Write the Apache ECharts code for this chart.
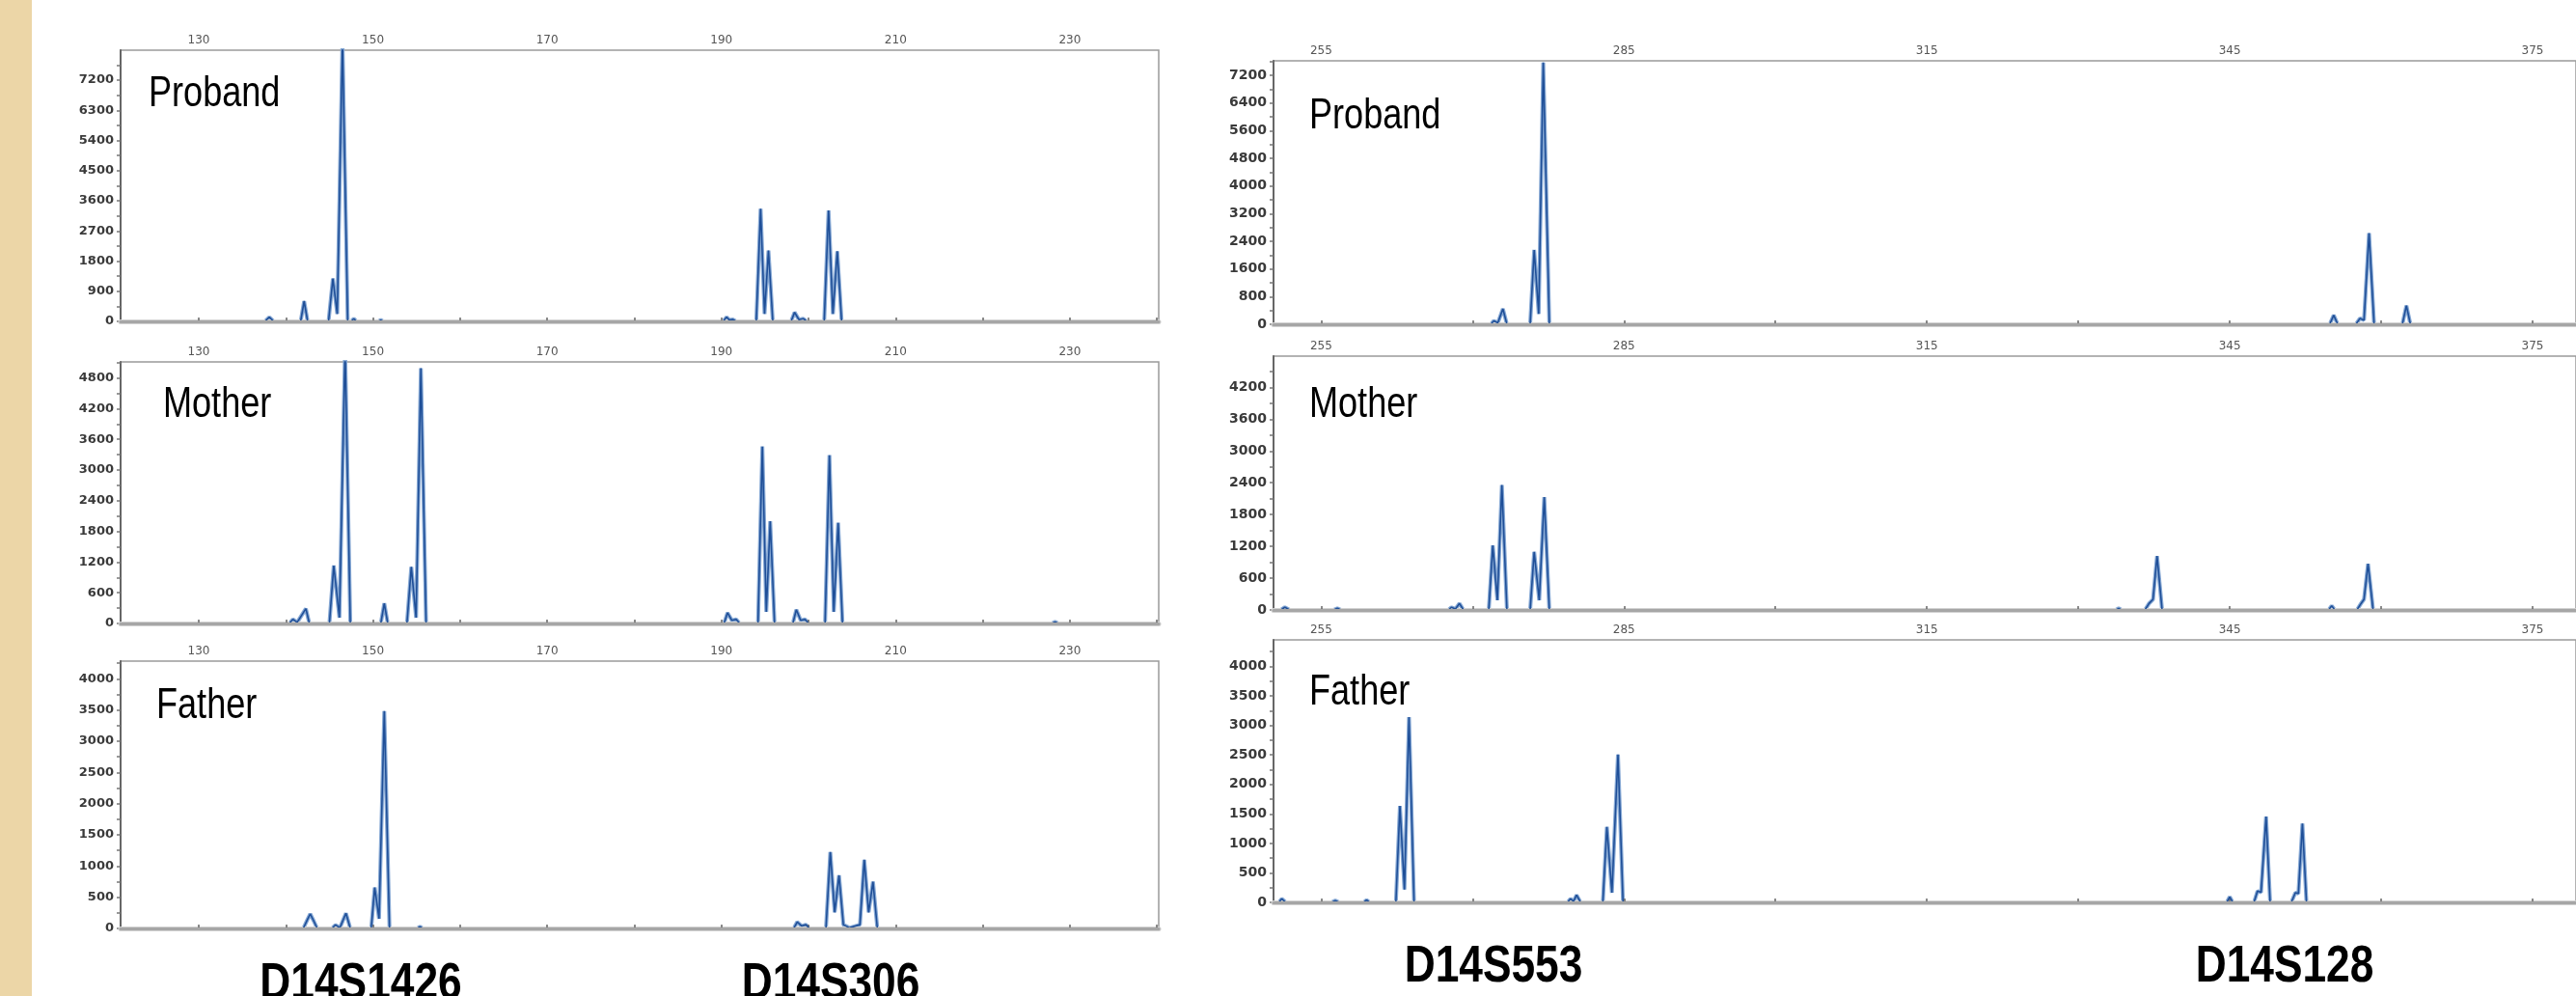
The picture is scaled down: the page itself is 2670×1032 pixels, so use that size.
<!DOCTYPE html>
<html>
<head>
<meta charset="utf-8">
<script src="https://cdn.jsdelivr.net/npm/echarts@6/dist/echarts.min.js"></script>
<style>
  html, body { margin: 0; padding: 0; background: #fff; }
  #chart { width: 2670px; height: 1032px; }
</style>
</head>
<body>
<div id="chart"></div>
<script>
// size axis (bp) ticks
const leftXTicks = [130, 140, 150, 160, 170, 180, 190, 200, 210, 220, 230, 240];
const leftXLabels = [130, 150, 170, 190, 210, 230];
const rightXTicks = [255, 270, 285, 300, 315, 330, 345, 360, 375];
const rightXLabels = [255, 285, 315, 345, 375];

// intensity axis labels per panel
const probandLeftY = [0, 900, 1800, 2700, 3600, 4500, 5400, 6300, 7200];
const motherLeftY = [0, 600, 1200, 1800, 2400, 3000, 3600, 4200, 4800];
const fatherLeftY = [0, 500, 1000, 1500, 2000, 2500, 3000, 3500, 4000];
const probandRightY = [0, 800, 1600, 2400, 3200, 4000, 4800, 5600, 6400, 7200];
const motherRightY = [0, 600, 1200, 1800, 2400, 3000, 3600, 4200];
const fatherRightY = [0, 500, 1000, 1500, 2000, 2500, 3000, 3500, 4000];

const people = ['Proband', 'Mother', 'Father'];
const markers = ['D14S1426', 'D14S306', 'D14S553', 'D14S128'];

// traces [size bp, RFU]
const probandLeft = [
  [121, 0], [137.6, 0], [138.1, 127], [138.6, 0],
  [141.7, 0], [142.1, 605], [142.5, 0],
  [144.9, 0], [145.4, 1279], [145.9, 222], [146.5, 8400], [147.1, 0],
  [147.5, 0], [147.8, 80], [148.1, 0],
  [150.6, 0], [150.9, 40], [151.2, 0],
  [190.2, 0], [190.6, 127], [190.9, 40], [191.3, 60], [191.7, 0],
  [194.0, 0], [194.5, 3361], [194.95, 222], [195.4, 2114], [195.9, 0],
  [198.0, 0], [198.4, 270], [198.9, 50], [199.4, 80], [199.8, 0],
  [201.8, 0], [202.3, 3312], [202.8, 222], [203.3, 2094], [203.8, 0],
  [240.2, 0]
];
const motherLeft = [
  [121, 0], [140.4, 0], [140.8, 81], [141.3, 20], [142.3, 289], [142.7, 0],
  [145.0, 0], [145.5, 1132], [146.15, 113], [146.8, 5400], [147.4, 0],
  [150.9, 0], [151.3, 396], [151.7, 0],
  [153.9, 0], [154.4, 1107], [154.95, 113], [155.5, 4988], [156.1, 0],
  [190.3, 0], [190.7, 208], [191.2, 60], [191.7, 81], [192.1, 0],
  [194.2, 0], [194.7, 3459], [195.15, 226], [195.6, 2000], [196.1, 0],
  [198.2, 0], [198.6, 270], [199.1, 60], [199.6, 81], [200.0, 0],
  [201.9, 0], [202.4, 3289], [202.9, 226], [203.4, 1968], [203.9, 0],
  [227.9, 0], [228.3, 30], [228.7, 0],
  [240.2, 0]
];
const fatherLeft = [
  [121, 0], [142.0, 0], [142.5, 150], [142.8, 232], [143.2, 120], [143.6, 0],
  [145.3, 0], [145.7, 57], [146.2, 10], [146.9, 243], [147.4, 0],
  [149.8, 0], [150.2, 656], [150.7, 155], [151.3, 3483], [151.9, 0],
  [155.1, 0], [155.4, 30], [155.7, 0],
  [198.3, 0], [198.7, 104], [199.2, 40], [199.7, 60], [200.1, 0],
  [202.0, 0], [202.5, 1223], [203.0, 258], [203.5, 851], [204.0, 60],
  [204.7, 10], [205.9, 60], [206.4, 1099], [206.9, 258], [207.4, 749], [207.9, 0],
  [240.2, 0]
];
const probandRight = [
  [250.3, 0], [271.8, 0], [272.1, 100], [272.5, 40], [273.0, 447], [273.4, 0],
  [275.7, 0], [276.1, 2150], [276.55, 300], [277.0, 7570], [277.6, 0],
  [354.9, 0], [355.3, 260], [355.7, 0],
  [357.5, 0], [357.9, 170], [358.3, 120], [358.8, 2635], [359.3, 0],
  [362.1, 0], [362.5, 540], [362.9, 0],
  [379.3, 0]
];
const motherRight = [
  [250.3, 0], [251.0, 0], [251.4, 50], [251.9, 0],
  [256.2, 0], [256.6, 30], [257.0, 0],
  [267.6, 0], [267.9, 50], [268.3, 20], [268.7, 122], [269.1, 0],
  [271.6, 0], [272.0, 1218], [272.45, 183], [272.9, 2356], [273.4, 0],
  [275.7, 0], [276.1, 1096], [276.6, 183], [277.1, 2131], [277.6, 0],
  [333.7, 0], [334.0, 30], [334.3, 0],
  [336.6, 0], [337.0, 120], [337.4, 200], [337.8, 1017], [338.3, 0],
  [354.8, 0], [355.1, 80], [355.4, 0],
  [357.6, 0], [358.0, 120], [358.3, 200], [358.7, 871], [359.2, 0],
  [379.3, 0]
];
const fatherRight = [
  [250.3, 0], [250.8, 0], [251.1, 60], [251.5, 0],
  [256.0, 0], [256.4, 30], [256.8, 0], [259.2, 0], [259.5, 40], [259.8, 0],
  [262.4, 0], [262.8, 1634], [263.25, 217], [263.7, 3142], [264.2, 0],
  [279.4, 0], [279.7, 60], [280.0, 20], [280.3, 125], [280.7, 0],
  [282.9, 0], [283.3, 1280], [283.8, 163], [284.4, 2505], [284.9, 0],
  [344.7, 0], [345.0, 93], [345.3, 0],
  [347.4, 0], [347.75, 191], [348.1, 170], [348.6, 1454], [349.0, 0],
  [351.1, 0], [351.5, 163], [351.8, 150], [352.2, 1335], [352.6, 0],
  [379.3, 0]
];

// layout of the six panels
const cols = {
  left: { left: 125, width: 1076, min: 121.03, max: 240.2, ticks: leftXTicks, labels: leftXLabels, yFont: 13 },
  right: { left: 1320, width: 1352, min: 250.28, max: 379.3, ticks: rightXTicks, labels: rightXLabels, yFont: 14 }
};
const panels = [
  { col: 'left', top: 52, bottom: 333, yMax: 8093, yLabels: probandLeftY, data: probandLeft, name: people[0], tx: 154, ty: 96 },
  { col: 'left', top: 375, bottom: 646, yMax: 5113, yLabels: motherLeftY, data: motherLeft, name: people[1], tx: 169, ty: 418 },
  { col: 'left', top: 685, bottom: 962, yMax: 4283, yLabels: fatherLeftY, data: fatherLeft, name: people[2], tx: 162, ty: 730 },
  { col: 'right', top: 63, bottom: 336, yMax: 7620, yLabels: probandRightY, data: probandRight, name: people[0], tx: 1357, ty: 119 },
  { col: 'right', top: 369, bottom: 632, yMax: 4790, yLabels: motherRightY, data: motherRight, name: people[1], tx: 1357, ty: 418 },
  { col: 'right', top: 663, bottom: 935, yMax: 4450, yLabels: fatherRightY, data: fatherRight, name: people[2], tx: 1357, ty: 716 }
];

const narrowFont = '"Liberation Sans", Arial, sans-serif';
const grid = [], xAxis = [], yAxis = [], series = [], graphic = [];

// beige strip on the left edge
graphic.push({ type: 'rect', left: 0, top: 0, shape: { width: 33, height: 1032 }, style: { fill: '#ecd6a7' }, z: 0 });

panels.forEach((p, i) => {
  const c = cols[p.col];
  grid.push({
    left: c.left, width: c.width, top: p.top, height: p.bottom - p.top,
    show: true, borderColor: '#9a9a9a', borderWidth: 1.5, backgroundColor: 'transparent'
  });
  // half steps between labelled ticks
  const step = p.yLabels[1] - p.yLabels[0];
  const yTicks = [];
  for (let v = 0; v < p.yMax; v += step / 2) yTicks.push(v);

  xAxis.push({
    type: 'value', gridIndex: i, position: 'top', min: c.min, max: c.max,
    axisLine: { show: true, lineStyle: { color: '#d2d2d2', width: 5 } },
    axisTick: { show: true, customValues: c.ticks, length: 4, inside: false, lineStyle: { color: '#666', width: 1.5 } },
    axisLabel: { show: true, customValues: c.labels, margin: 4, fontSize: 12, fontFamily: 'DejaVu Sans', color: '#555', formatter: v => String(v) },
    splitLine: { show: false }, z: 3
  });
  xAxis.push({
    type: 'value', gridIndex: i, position: 'bottom', min: c.min, max: c.max,
    axisLine: { show: true, lineStyle: { color: '#a6a6a6', width: 3 } },
    axisTick: { show: false }, axisLabel: { show: false }, splitLine: { show: false }, z: 5
  });
  yAxis.push({
    type: 'value', gridIndex: i, min: 0, max: p.yMax,
    axisLine: { show: true, lineStyle: { color: '#666', width: 2 } },
    axisTick: { show: true, customValues: yTicks, length: 4, lineStyle: { color: '#777', width: 1.5 } },
    axisLabel: {
      show: true, customValues: p.yLabels, margin: 7, fontSize: c.yFont, fontWeight: 'bold',
      fontFamily: 'DejaVu Sans', color: '#3a3a3a', formatter: v => String(v)
    },
    splitLine: { show: false }
  });
  series.push({
    type: 'line', xAxisIndex: 2 * i, yAxisIndex: i, data: p.data, showSymbol: false, symbol: 'none',
    lineStyle: { color: '#86a8d4', width: 4 }, z: 2, animation: false, silent: true
  });
  series.push({
    type: 'line', xAxisIndex: 2 * i, yAxisIndex: i, data: p.data, showSymbol: false, symbol: 'none',
    lineStyle: { color: '#1f4f98', width: 1.6 }, z: 3, animation: false, silent: true
  });
  graphic.push({
    type: 'text', x: p.tx, y: p.ty + 2, scaleX: 0.82, z: 10,
    style: { text: p.name, fontSize: 44, fontFamily: narrowFont, fill: '#000', align: 'left', verticalAlign: 'middle' }
  });
});

// marker names under the columns
const markerPos = [[374, 1020], [861, 1020], [1548, 1002], [2368, 1002]];
markers.forEach((m, k) => {
  graphic.push({
    type: 'text', x: markerPos[k][0], y: markerPos[k][1], scaleX: 0.82, z: 10,
    style: { text: m, fontSize: 54, fontWeight: 'bold', fontFamily: narrowFont, fill: '#000', align: 'center', verticalAlign: 'middle' }
  });
});

const chart = echarts.init(document.getElementById('chart'), null, { renderer: 'canvas' });
chart.setOption({
  backgroundColor: '#fff',
  animation: false,
  grid, xAxis, yAxis, series, graphic
});
</script>
</body>
</html>
